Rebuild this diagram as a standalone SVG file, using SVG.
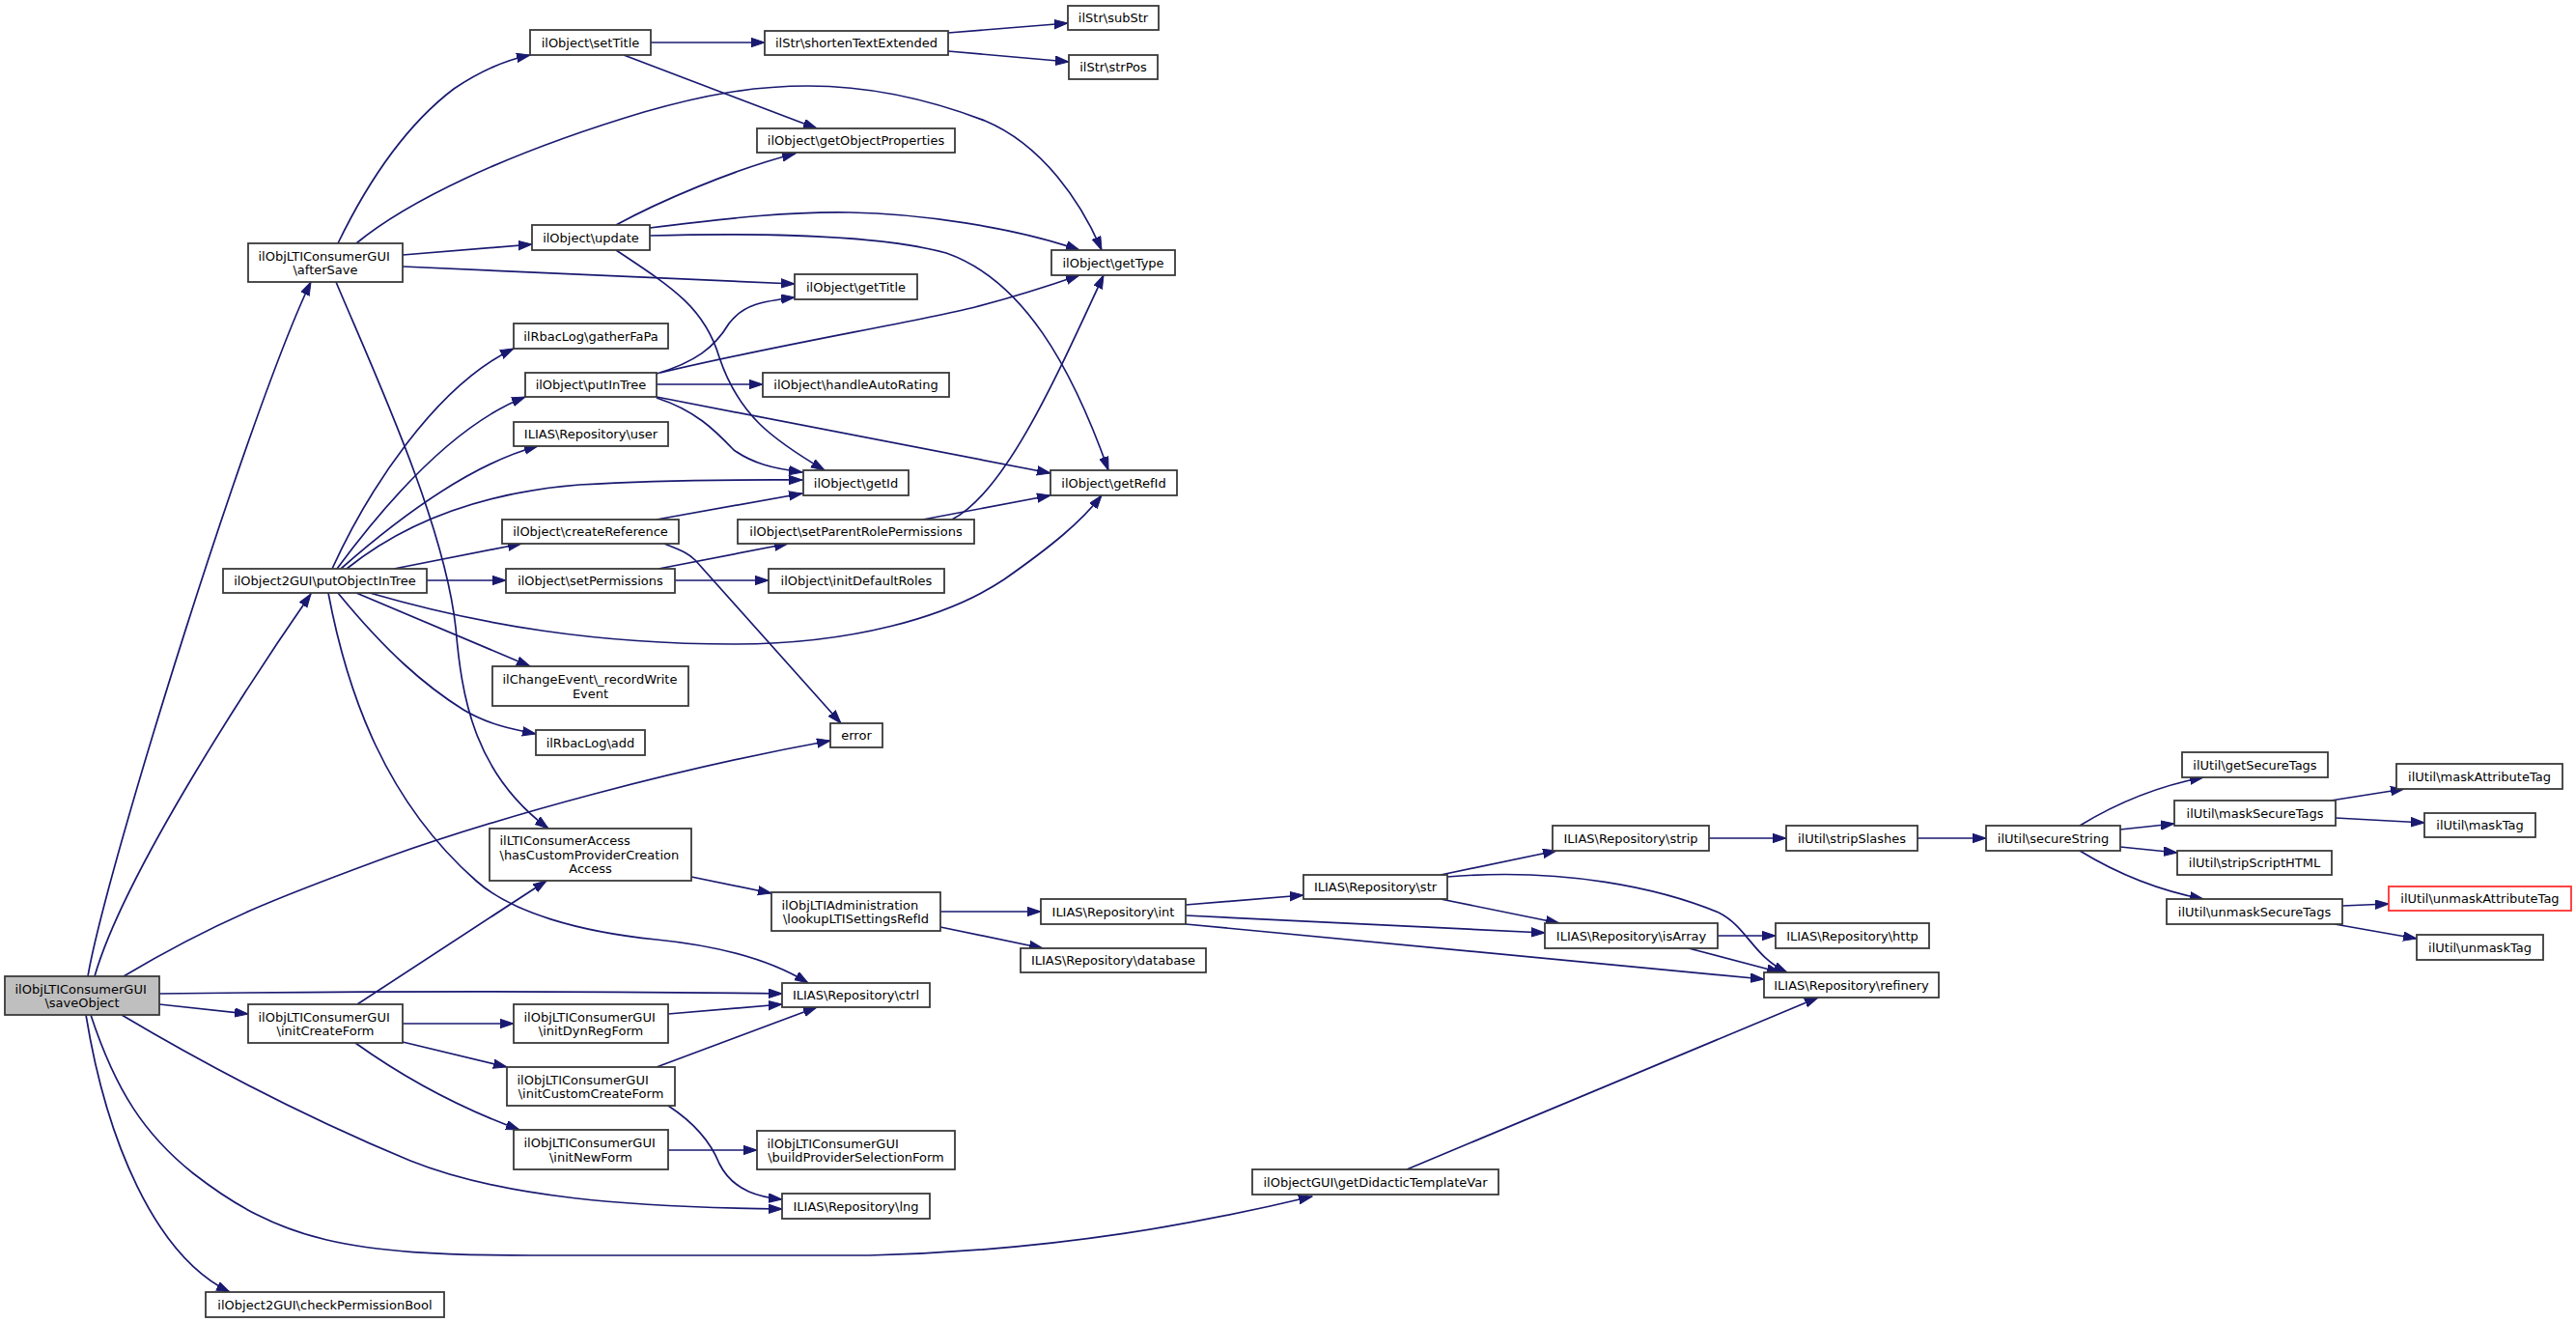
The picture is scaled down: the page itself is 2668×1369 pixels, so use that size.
<svg xmlns="http://www.w3.org/2000/svg" width="2668" height="1369" viewBox="0 0 2668 1369">
<style>
rect{fill:#fff;stroke:#3a3a3a;stroke-width:1.8}
.root rect{fill:#bfbfbf}
.red rect{stroke:#ff3030}
text{font-family:"DejaVu Sans","Liberation Sans",sans-serif;font-size:13px;fill:#000}
.c{text-anchor:middle}
.l{text-anchor:start}
#edges path{fill:none;stroke:#191970;stroke-width:1.7;marker-end:url(#a)}
</style>
<defs>
<marker id="a" markerUnits="userSpaceOnUse" markerWidth="15" markerHeight="11" refX="14" refY="5" orient="auto">
<path d="M0,0.3 L14,5 L0,9.7 z" fill="#191970" stroke="#191970" stroke-width="1"/>
</marker>
</defs>
<rect x="0" y="0" width="2668" height="1369" style="fill:#fff;stroke:none"/>
<g id="edges">
<path d="M91,1011 C110,900 260,420 322,292"/>
<path d="M98,1011 C130,900 270,690 322,615"/>
<path d="M128,1011 C230,950 300,925 400,888 C520,845 700,796 860,767"/>
<path d="M165,1029 C400,1026 600,1026 810,1029"/>
<path d="M165,1040 L257,1050"/>
<path d="M126,1051 C200,1095 300,1150 425,1202 C520,1240 650,1250 810,1252"/>
<path d="M94,1051 C120,1130 150,1175 200,1215 C290,1285 360,1300 550,1300 L900,1300 C1100,1295 1250,1265 1359,1239"/>
<path d="M89,1051 C110,1180 160,1300 238,1338"/>
<path d="M350,252 C380,190 420,130 470,92 C495,75 520,63 549,57"/>
<path d="M369,252 C420,210 520,160 667,116 C730,98 780,89 837,89 C900,89 960,102 1020,125 C1080,150 1120,210 1141,259"/>
<path d="M417,264 L551,253"/>
<path d="M417,276 L823,294"/>
<path d="M348,292 C385,380 460,540 472,650 C478,720 490,800 568,858"/>
<path d="M674,44 L792,44"/>
<path d="M646,57 L846,133"/>
<path d="M982,34 L1106,24"/>
<path d="M982,53 L1107,64"/>
<path d="M638,233 C680,210 760,175 824,159"/>
<path d="M673,236 C760,225 820,219 880,220 C950,221 1050,235 1118,259"/>
<path d="M673,244 C750,242 900,240 980,262 C1060,290 1110,380 1148,487"/>
<path d="M638,259 C700,300 730,320 745,370 C765,430 800,455 854,487"/>
<path d="M344,589 C380,510 450,400 532,361"/>
<path d="M349,589 C400,520 470,440 544,411"/>
<path d="M353,589 C420,530 490,480 557,462"/>
<path d="M359,589 C420,540 500,510 600,502 C700,496 780,497 831,497"/>
<path d="M408,589 L540,563"/>
<path d="M442,601 L524,601"/>
<path d="M383,614 C500,648 620,667 760,667 C880,667 980,640 1040,600 C1090,565 1120,540 1141,513"/>
<path d="M369,614 L549,690"/>
<path d="M350,614 C400,675 440,710 480,735 C505,750 530,755 555,760"/>
<path d="M340,614 C360,720 400,830 493,912 C530,945 600,965 680,973 C750,980 800,995 837,1018"/>
<path d="M680,387 C720,375 740,360 755,335 C770,315 790,312 823,308"/>
<path d="M684,386 C800,358 940,335 1010,318 C1060,305 1095,293 1118,285"/>
<path d="M680,398 L790,398"/>
<path d="M680,411 L1088,490"/>
<path d="M680,412 C720,425 740,445 760,466 C780,480 800,485 831,489"/>
<path d="M680,538 L831,511"/>
<path d="M688,563 C705,570 712,572 720,580 L871,749"/>
<path d="M682,589 L816,563"/>
<path d="M699,601 L796,601"/>
<path d="M956,538 L1088,513"/>
<path d="M986,538 C1040,510 1090,400 1143,285"/>
<path d="M716,908 L799,925"/>
<path d="M974,944 L1078,944"/>
<path d="M974,960 L1080,982"/>
<path d="M1228,937 L1350,927"/>
<path d="M1228,948 L1600,966"/>
<path d="M1228,957 L1827,1014"/>
<path d="M1492,906 L1612,881"/>
<path d="M1492,931 L1615,956"/>
<path d="M1499,908 C1620,898 1720,920 1780,945 C1810,960 1815,990 1851,1007"/>
<path d="M1779,969 L1839,969"/>
<path d="M1749,982 L1844,1007"/>
<path d="M1770,868 L1850,868"/>
<path d="M1986,868 L2057,868"/>
<path d="M2154,855 C2190,833 2230,815 2282,805"/>
<path d="M2196,859 L2252,853"/>
<path d="M2196,877 L2255,883"/>
<path d="M2154,881 C2190,903 2230,921 2282,931"/>
<path d="M2414,829 L2490,817"/>
<path d="M2419,847 L2511,852"/>
<path d="M2426,938 L2474,936"/>
<path d="M2418,957 L2503,972"/>
<path d="M370,1040 L566,912"/>
<path d="M417,1060 L532,1060"/>
<path d="M417,1079 L525,1105"/>
<path d="M368,1080 C410,1110 470,1145 538,1170"/>
<path d="M692,1050 L810,1040"/>
<path d="M680,1105 L846,1043"/>
<path d="M692,1145 C715,1160 735,1180 745,1205 C760,1235 790,1240 810,1242"/>
<path d="M692,1191 L784,1191"/>
<path d="M1457,1211 L1883,1033"/>
</g>
<g id="n_saveObject" class="root"><rect x="5" y="1011" width="160" height="40"/><text class="l" x="15.5" y="1028.6">ilObjLTIConsumerGUI</text><text class="c" x="85" y="1043.3">\saveObject</text></g>
<g id="n_afterSave"><rect x="257" y="252" width="160" height="40"/><text class="l" x="267.5" y="269.6">ilObjLTIConsumerGUI</text><text class="c" x="337" y="284.3">\afterSave</text></g>
<g id="n_putObjectInTree"><rect x="231" y="589" width="211" height="25"/><text class="c" x="336.5" y="606.2">ilObject2GUI\putObjectInTree</text></g>
<g id="n_initCreateForm"><rect x="257" y="1040" width="160" height="40"/><text class="l" x="267.5" y="1057.6">ilObjLTIConsumerGUI</text><text class="c" x="337" y="1072.3">\initCreateForm</text></g>
<g id="n_checkPermissionBool"><rect x="213" y="1338" width="247" height="26"/><text class="c" x="336.5" y="1355.7">ilObject2GUI\checkPermissionBool</text></g>
<g id="n_setTitle"><rect x="549" y="31" width="125" height="26"/><text class="c" x="611.5" y="48.7">ilObject\setTitle</text></g>
<g id="n_update"><rect x="551" y="233" width="122" height="26"/><text class="c" x="612" y="250.7">ilObject\update</text></g>
<g id="n_gatherFaPa"><rect x="532" y="335" width="160" height="26"/><text class="c" x="612" y="352.7">ilRbacLog\gatherFaPa</text></g>
<g id="n_putInTree"><rect x="544" y="386" width="136" height="25"/><text class="c" x="612" y="403.2">ilObject\putInTree</text></g>
<g id="n_user"><rect x="532" y="437" width="160" height="25"/><text class="c" x="612" y="454.2">ILIAS\Repository\user</text></g>
<g id="n_createReference"><rect x="520" y="538" width="183" height="25"/><text class="c" x="611.5" y="555.2">ilObject\createReference</text></g>
<g id="n_setPermissions"><rect x="524" y="589" width="175" height="25"/><text class="c" x="611.5" y="606.2">ilObject\setPermissions</text></g>
<g id="n_recordWriteEvent"><rect x="510" y="690" width="203" height="41"/><text class="l" x="520.5" y="707.8">ilChangeEvent\_recordWrite</text><text class="c" x="611.5" y="722.5">Event</text></g>
<g id="n_rbacLogAdd"><rect x="555" y="756" width="113" height="26"/><text class="c" x="611.5" y="773.7">ilRbacLog\add</text></g>
<g id="n_hasCustomProviderCreationAccess"><rect x="507" y="858" width="209" height="54"/><text class="l" x="517.5" y="874.5">ilLTIConsumerAccess</text><text class="l" x="517.5" y="889.5">\hasCustomProviderCreation</text><text class="c" x="611.5" y="904">Access</text></g>
<g id="n_initDynRegForm"><rect x="532" y="1040" width="160" height="40"/><text class="l" x="542.5" y="1057.6">ilObjLTIConsumerGUI</text><text class="c" x="612" y="1072.3">\initDynRegForm</text></g>
<g id="n_initCustomCreateForm"><rect x="525" y="1105" width="174" height="40"/><text class="l" x="535.5" y="1122.6">ilObjLTIConsumerGUI</text><text class="c" x="612" y="1137.3">\initCustomCreateForm</text></g>
<g id="n_initNewForm"><rect x="532" y="1170" width="160" height="41"/><text class="l" x="542.5" y="1187.8">ilObjLTIConsumerGUI</text><text class="c" x="612" y="1202.5">\initNewForm</text></g>
<g id="n_shortenTextExtended"><rect x="792" y="32" width="190" height="25"/><text class="c" x="887" y="49.2">ilStr\shortenTextExtended</text></g>
<g id="n_getObjectProperties"><rect x="784" y="133" width="205" height="25"/><text class="c" x="886.5" y="150.2">ilObject\getObjectProperties</text></g>
<g id="n_getTitle"><rect x="823" y="284" width="127" height="26"/><text class="c" x="886.5" y="301.7">ilObject\getTitle</text></g>
<g id="n_handleAutoRating"><rect x="790" y="386" width="193" height="25"/><text class="c" x="886.5" y="403.2">ilObject\handleAutoRating</text></g>
<g id="n_getId"><rect x="832" y="487" width="109" height="26"/><text class="c" x="886.5" y="504.7">ilObject\getId</text></g>
<g id="n_setParentRolePermissions"><rect x="764" y="538" width="245" height="25"/><text class="c" x="886.5" y="555.2">ilObject\setParentRolePermissions</text></g>
<g id="n_initDefaultRoles"><rect x="796" y="589" width="182" height="25"/><text class="c" x="887" y="606.2">ilObject\initDefaultRoles</text></g>
<g id="n_error"><rect x="860" y="749" width="54" height="25"/><text class="c" x="887" y="766.2">error</text></g>
<g id="n_lookupLTISettingsRefId"><rect x="799" y="924" width="175" height="40"/><text class="l" x="809.5" y="941.6">ilObjLTIAdministration</text><text class="c" x="886.5" y="956.3">\lookupLTISettingsRefId</text></g>
<g id="n_ctrl"><rect x="810" y="1018" width="153" height="25"/><text class="c" x="886.5" y="1035.2">ILIAS\Repository\ctrl</text></g>
<g id="n_buildProviderSelectionForm"><rect x="784" y="1171" width="205" height="40"/><text class="l" x="794.5" y="1188.6">ilObjLTIConsumerGUI</text><text class="c" x="886.5" y="1203.3">\buildProviderSelectionForm</text></g>
<g id="n_lng"><rect x="810" y="1236" width="153" height="26"/><text class="c" x="886.5" y="1253.7">ILIAS\Repository\lng</text></g>
<g id="n_subStr"><rect x="1106" y="6" width="94" height="25"/><text class="c" x="1153" y="23.2">ilStr\subStr</text></g>
<g id="n_strPos"><rect x="1107" y="57" width="92" height="25"/><text class="c" x="1153" y="74.2">ilStr\strPos</text></g>
<g id="n_getType"><rect x="1089" y="259" width="128" height="26"/><text class="c" x="1153" y="276.7">ilObject\getType</text></g>
<g id="n_getRefId"><rect x="1088" y="487" width="131" height="26"/><text class="c" x="1153.5" y="504.7">ilObject\getRefId</text></g>
<g id="n_int"><rect x="1078" y="931" width="150" height="26"/><text class="c" x="1153" y="948.7">ILIAS\Repository\int</text></g>
<g id="n_database"><rect x="1057" y="982" width="192" height="25"/><text class="c" x="1153" y="999.2">ILIAS\Repository\database</text></g>
<g id="n_getDidacticTemplateVar"><rect x="1297" y="1211" width="255" height="26"/><text class="c" x="1424.5" y="1228.7">ilObjectGUI\getDidacticTemplateVar</text></g>
<g id="n_str"><rect x="1350" y="906" width="149" height="25"/><text class="c" x="1424.5" y="923.2">ILIAS\Repository\str</text></g>
<g id="n_strip"><rect x="1608" y="855" width="162" height="26"/><text class="c" x="1689" y="872.7">ILIAS\Repository\strip</text></g>
<g id="n_isArray"><rect x="1600" y="956" width="179" height="26"/><text class="c" x="1689.5" y="973.7">ILIAS\Repository\isArray</text></g>
<g id="n_http"><rect x="1839" y="956" width="159" height="26"/><text class="c" x="1918.5" y="973.7">ILIAS\Repository\http</text></g>
<g id="n_refinery"><rect x="1827" y="1007" width="181" height="26"/><text class="c" x="1917.5" y="1024.7">ILIAS\Repository\refinery</text></g>
<g id="n_stripSlashes"><rect x="1850" y="855" width="136" height="26"/><text class="c" x="1918" y="872.7">ilUtil\stripSlashes</text></g>
<g id="n_secureString"><rect x="2057" y="855" width="139" height="26"/><text class="c" x="2126.5" y="872.7">ilUtil\secureString</text></g>
<g id="n_getSecureTags"><rect x="2260" y="779" width="151" height="26"/><text class="c" x="2335.5" y="796.7">ilUtil\getSecureTags</text></g>
<g id="n_maskSecureTags"><rect x="2252" y="829" width="167" height="26"/><text class="c" x="2335.5" y="846.7">ilUtil\maskSecureTags</text></g>
<g id="n_stripScriptHTML"><rect x="2255" y="881" width="160" height="25"/><text class="c" x="2335" y="898.2">ilUtil\stripScriptHTML</text></g>
<g id="n_unmaskSecureTags"><rect x="2244" y="931" width="182" height="26"/><text class="c" x="2335" y="948.7">ilUtil\unmaskSecureTags</text></g>
<g id="n_maskAttributeTag"><rect x="2482" y="791" width="172" height="26"/><text class="c" x="2568" y="808.7">ilUtil\maskAttributeTag</text></g>
<g id="n_maskTag"><rect x="2511" y="842" width="115" height="25"/><text class="c" x="2568.5" y="859.2">ilUtil\maskTag</text></g>
<g id="n_unmaskAttributeTag" class="red"><rect x="2474" y="918" width="189" height="25"/><text class="c" x="2568.5" y="935.2">ilUtil\unmaskAttributeTag</text></g>
<g id="n_unmaskTag"><rect x="2503" y="968" width="131" height="26"/><text class="c" x="2568.5" y="985.7">ilUtil\unmaskTag</text></g>
</svg>
